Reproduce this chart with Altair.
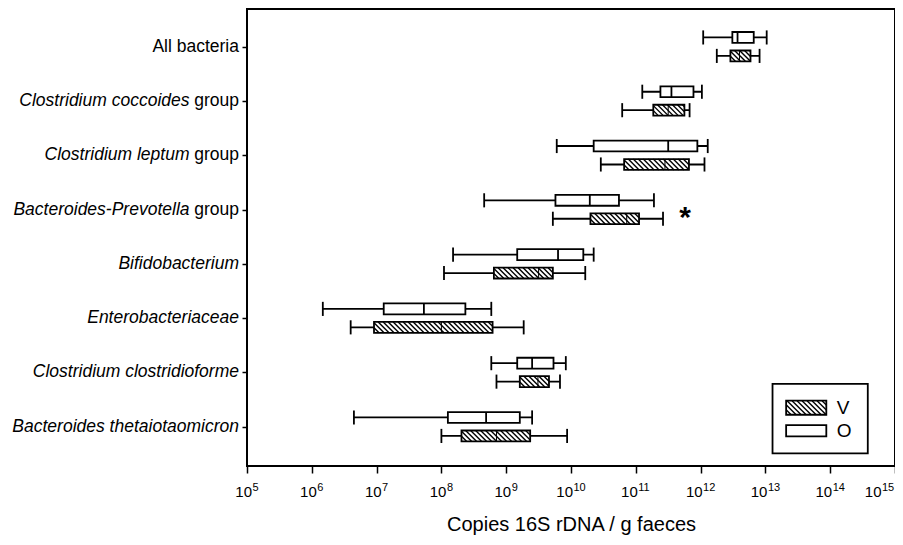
import altair as alt
import pandas as pd
import numpy as np

# ---------------- data (log10 of copies 16S rDNA / g faeces) ----------------
italic_part = ["", "Clostridium coccoides", "Clostridium leptum", "Bacteroides-Prevotella",
               "Bifidobacterium", "Enterobacteriaceae", "Clostridium clostridioforme",
               "Bacteroides thetaiotaomicron"]
regular_part = ["All bacteria", "group", "group", "group", "", "", "", ""]

O_low  = [12.04, 11.10, 9.78, 8.66, 8.18, 6.17, 8.77, 6.65]
O_q1   = [12.49, 11.38, 10.35, 9.76, 9.17, 7.11, 9.17, 8.10]
O_med  = [12.57, 11.55, 11.50, 10.29, 9.80, 7.73, 9.40, 8.69]
O_q3   = [12.82, 11.89, 11.95, 10.74, 10.19, 8.37, 9.73, 9.21]
O_high = [13.02, 12.02, 12.11, 11.28, 10.35, 8.77, 9.92, 9.40]

V_low  = [12.25, 10.79, 10.46, 9.72, 8.04, 6.60, 8.85, 8.00]
V_q1   = [12.46, 11.27, 10.82, 10.30, 8.81, 6.96, 9.21, 8.31]
V_med  = [12.60, 11.50, 11.45, 10.86, 9.50, 8.00, 9.49, 8.85]
V_q3   = [12.77, 11.75, 11.82, 11.05, 9.72, 8.79, 9.66, 9.37]
V_high = [12.91, 11.83, 12.06, 11.42, 10.22, 9.27, 9.83, 9.94]

decades = list(range(5, 16))
groups = ["V", "O"]
star_category = 3
star_log = 11.76

# ---------------- layout ----------------
W, H = 648, 457
YDOM = [-0.694, 7.724]
PX_DEC = W / 10.0
PX_UNIT = H / (YDOM[1] - YDOM[0])
OFF, HALF, CAP = 0.17, 0.10, 0.13
FONT = "Liberation Sans"
LW = 1.8

xs = alt.Scale(type="log", domain=[1e5, 1e15], nice=False)
ys = alt.Scale(domain=YDOM, reverse=True, nice=False, zero=False)
x_axis = alt.Axis(values=[10.0 ** d for d in decades], labels=False,
                  title="Copies 16S rDNA / g faeces", grid=False, domain=False,
                  tickSize=7, tickWidth=1.5, tickColor="black",
                  titleFontSize=20, titleFontWeight="normal", titleColor="black",
                  titleFont=FONT, titlePadding=41)
y_axis = alt.Axis(values=list(range(8)), labels=False, title=None, grid=False,
                  domain=False, tickSize=5, tickWidth=1.5, tickColor="black")


def X(f):
    return alt.X(f, type="quantitative", scale=xs, axis=x_axis)


def Y(f):
    return alt.Y(f, type="quantitative", scale=ys, axis=y_axis)


# box table
rows = []
for i in range(8):
    for g, lo, q1, md, q3, hi, off in [
        ("O", O_low[i], O_q1[i], O_med[i], O_q3[i], O_high[i], -OFF),
        ("V", V_low[i], V_q1[i], V_med[i], V_q3[i], V_high[i], OFF),
    ]:
        yc = i + off
        rows.append(dict(group=g, idx=i, low=10 ** lo, q1=10 ** q1, med=10 ** md,
                         q3=10 ** q3, high=10 ** hi, yc=yc, yt=yc - HALF, yb=yc + HALF,
                         c0=yc - CAP, c1=yc + CAP, llo=q1, lhi=q3))
boxes = pd.DataFrame(rows)

# legend in data space (bottom-right of the plot)
LEG_X = (13.11, 14.58)
LEG_Y = (6.21, 7.49)
SW_X = (13.32, 13.94)
SW_Y = {"V": (6.52, 6.78), "O": (6.97, 7.18)}
TXT_X = 14.10
legend_frame = pd.DataFrame([dict(x=10 ** LEG_X[0], x2=10 ** LEG_X[1], y=LEG_Y[0], y2=LEG_Y[1])])
legend_sw = pd.DataFrame([dict(group=g, x=10 ** SW_X[0], x2=10 ** SW_X[1], y=SW_Y[g][0],
                               y2=SW_Y[g][1], ym=(SW_Y[g][0] + SW_Y[g][1]) / 2,
                               tx=10 ** TXT_X) for g in groups])


def hatch(lo, hi, yt, yb, spacing=5.0):
    d = (yb - yt) * PX_UNIT / PX_DEC
    out = []
    for x0 in np.arange(lo - d, hi, spacing / PX_DEC):
        t0 = max(0.0, (lo - x0) / d)
        t1 = min(1.0, (hi - x0) / d)
        if t1 > t0:
            out.append(dict(hx=10 ** (x0 + t0 * d), hx2=10 ** (x0 + t1 * d),
                            hy=yt + t0 * (yb - yt), hy2=yt + t1 * (yb - yt)))
    return out


hrows = []
for r in rows:
    if r["group"] == "V":
        hrows += hatch(r["llo"], r["lhi"], r["yt"], r["yb"])
hrows += hatch(SW_X[0], SW_X[1], SW_Y["V"][0], SW_Y["V"][1])
hatch_df = pd.DataFrame(hrows)

labels = pd.DataFrame(dict(idx=list(range(8)), it=italic_part, reg=regular_part))
star = pd.DataFrame([dict(x=10 ** star_log, y=star_category + 0.035, t="*")])
ticks = pd.DataFrame(dict(v=[10.0 ** d for d in decades], e=[str(d) for d in decades], d=decades))

# ---------------- layers ----------------
base_b = alt.Chart(boxes)
whisk = base_b.mark_rule(color="black", strokeWidth=LW).encode(x=X("low"), x2="high", y=Y("yc"))
cap_lo = base_b.mark_rule(color="black", strokeWidth=LW).encode(x=X("low"), y=Y("c0"), y2="c1")
cap_hi = base_b.mark_rule(color="black", strokeWidth=LW).encode(x=X("high"), y=Y("c0"), y2="c1")
box_fill = base_b.mark_rect(fill="white").encode(x=X("q1"), x2="q3", y=Y("yt"), y2="yb")
leg_frame = alt.Chart(legend_frame).mark_rect(fill="white", stroke="black", strokeWidth=LW).encode(
    x=X("x"), x2="x2", y=Y("y"), y2="y2")
leg_fill = alt.Chart(legend_sw).mark_rect(fill="white").encode(x=X("x"), x2="x2", y=Y("y"), y2="y2")
hatch_l = alt.Chart(hatch_df).mark_rule(color="black", strokeWidth=1.4).encode(
    x=X("hx"), x2="hx2", y=Y("hy"), y2="hy2")
box_line = base_b.mark_rect(fillOpacity=0, stroke="black", strokeWidth=LW).encode(
    x=X("q1"), x2="q3", y=Y("yt"), y2="yb")
med_O = base_b.transform_filter("datum.group == 'O'").mark_rule(color="black", strokeWidth=LW).encode(
    x=X("med"), y=Y("yt"), y2="yb")
med_V = base_b.transform_filter("datum.group == 'V'").mark_rule(color="black", strokeWidth=1.0).encode(
    x=X("med"), y=Y("yt"), y2="yb")
leg_line = alt.Chart(legend_sw).mark_rect(fillOpacity=0, stroke="black", strokeWidth=LW).encode(
    x=X("x"), x2="x2", y=Y("y"), y2="y2")
leg_text = alt.Chart(legend_sw).mark_text(align="left", baseline="middle", fontSize=19,
                                           font=FONT, color="black").encode(
    x=X("tx"), y=Y("ym"), text="group:N")

lab_reg = alt.Chart(labels).mark_text(align="right", baseline="middle", fontSize=17.5, font=FONT,
                                      color="black").encode(
    x=alt.value(-8), y=Y("idx"), text="reg:N")
lab_it_g = alt.Chart(labels).transform_filter("datum.reg == 'group'").mark_text(
    align="right", baseline="middle", fontSize=17.5, font=FONT, fontStyle="italic", color="black").encode(
    x=alt.value(-57.5), y=Y("idx"), text="it:N")
lab_it = alt.Chart(labels).transform_filter("datum.reg == ''").mark_text(
    align="right", baseline="middle", fontSize=17.5, font=FONT, fontStyle="italic", color="black").encode(
    x=alt.value(-8), y=Y("idx"), text="it:N")

star_l = alt.Chart(star).mark_text(fontSize=30, fontWeight="bold", font=FONT, baseline="middle",
                                   dy=7, color="black").encode(x=X("x"), y=Y("y"), text="t:N")

# tick labels: "10" plus raised exponent
tk = alt.Chart(ticks)
t10_1 = tk.transform_filter("datum.d < 10").mark_text(
    align="right", baseline="alphabetic", fontSize=15, font=FONT, color="black", dx=5).encode(
    x=X("v"), y=alt.value(H + 31), text=alt.value("10"))
te_1 = tk.transform_filter("datum.d < 10").mark_text(
    align="left", baseline="alphabetic", fontSize=11, font=FONT, color="black", dx=5.5).encode(
    x=X("v"), y=alt.value(H + 25), text="e:N")
t10_2 = tk.transform_filter("datum.d >= 10 && datum.d < 15").mark_text(
    align="right", baseline="alphabetic", fontSize=15, font=FONT, color="black", dx=2).encode(
    x=X("v"), y=alt.value(H + 31), text=alt.value("10"))
te_2 = tk.transform_filter("datum.d >= 10 && datum.d < 15").mark_text(
    align="left", baseline="alphabetic", fontSize=11, font=FONT, color="black", dx=2.5).encode(
    x=X("v"), y=alt.value(H + 25), text="e:N")
t10_3 = tk.transform_filter("datum.d >= 15").mark_text(
    align="right", baseline="alphabetic", fontSize=15, font=FONT, color="black", dx=-13.5).encode(
    x=X("v"), y=alt.value(H + 31), text=alt.value("10"))
te_3 = tk.transform_filter("datum.d >= 15").mark_text(
    align="left", baseline="alphabetic", fontSize=11, font=FONT, color="black", dx=-13).encode(
    x=X("v"), y=alt.value(H + 25), text="e:N")

chart = alt.layer(
    whisk, cap_lo, cap_hi, box_fill, leg_frame, leg_fill, hatch_l, box_line, med_O, med_V,
    leg_line, leg_text, lab_reg, lab_it_g, lab_it, star_l,
    t10_1, te_1, t10_2, te_2, t10_3, te_3,
).properties(
    width=W, height=H,
    autosize=alt.AutoSizeParams(type="none"),
    padding={"left": 239, "top": 1, "right": 0, "bottom": 70},
).configure(
    background="white", font=FONT
).configure_view(
    stroke="black", strokeWidth=2
)

chart.save("out.html", embed_options={"renderer": "svg", "actions": False})
